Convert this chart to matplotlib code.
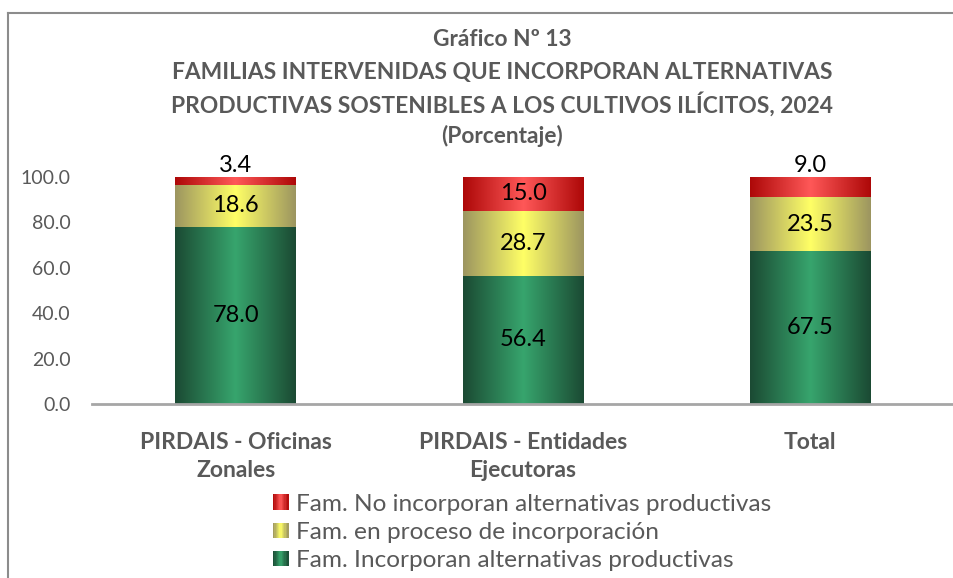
import numpy as np
import matplotlib.pyplot as plt
from matplotlib.colors import LinearSegmentedColormap
from matplotlib.patches import Rectangle
from matplotlib.legend_handler import HandlerBase
from matplotlib.lines import Line2D

plt.rcParams['font.family'] = ['Lato', 'DejaVu Sans']

categories = ['PIRDAIS - Oficinas\nZonales', 'PIRDAIS - Entidades\nEjecutoras', 'Total']
incorporan = [78.0, 56.4, 67.5]
en_proceso = [18.6, 28.7, 23.5]
no_incorporan = [3.4, 15.0, 9.0]
series_names = ['Fam. Incorporan alternativas productivas',
                'Fam. en proceso de incorporación',
                'Fam. No incorporan alternativas productivas']

GREY = '#595959'
# (edge colour, centre colour) for the horizontal gradients
grad = {
    'green': ('#1b4a33', '#37a56d'),
    'yellow': ('#9c9560', '#ffff66'),
    'red': ('#ad0808', '#ff5858'),
}


def cmap_for(key):
    edge, centre = grad[key]
    return LinearSegmentedColormap.from_list(key, [edge, centre, edge])


ramp = np.linspace(0, 1, 256).reshape(1, -1)


def gradient_bar(ax, x, bottom, height, width, key):
    ax.imshow(ramp, cmap=cmap_for(key), aspect='auto', interpolation='bicubic',
              extent=[x - width / 2, x + width / 2, bottom, bottom + height],
              zorder=2)


class GradientHandler(HandlerBase):
    def __init__(self, key):
        super().__init__()
        self.key = key

    def create_artists(self, legend, orig_handle, xdescent, ydescent,
                       width, height, fontsize, trans):
        cm = cmap_for(self.key)
        n = 12
        arts = []
        for i in range(n):
            r = Rectangle((-xdescent + width * i / n, -ydescent), width / n + 0.3,
                          height, facecolor=cm((i + 0.5) / n), edgecolor='none',
                          transform=trans)
            arts.append(r)
        return arts


fig = plt.figure(figsize=(9.54, 5.78), dpi=100)
ax = fig.add_axes([92 / 954, 174 / 578, 862 / 954, 227 / 578])

x = np.arange(len(categories))
w = 0.42
lab_size = 17
for i in x:
    gradient_bar(ax, i, 0, incorporan[i], w, 'green')
    gradient_bar(ax, i, incorporan[i], en_proceso[i], w, 'yellow')
    gradient_bar(ax, i, incorporan[i] + en_proceso[i], no_incorporan[i], w, 'red')

    ax.text(i, incorporan[i] / 2, f'{incorporan[i]:.1f}', ha='center', va='center',
            fontsize=lab_size, color='black', zorder=3)
    ax.text(i, incorporan[i] + en_proceso[i] / 2, f'{en_proceso[i]:.1f}', ha='center',
            va='center', fontsize=lab_size, color='black', zorder=3)
    top = incorporan[i] + en_proceso[i]
    if no_incorporan[i] < 10:
        ax.text(i, top + no_incorporan[i] + 0.3, f'{no_incorporan[i]:.1f}', ha='center',
                va='bottom', fontsize=lab_size, color='black', zorder=3, clip_on=False)
    else:
        ax.text(i, top + no_incorporan[i] / 2, f'{no_incorporan[i]:.1f}', ha='center',
                va='center', fontsize=lab_size, color='black', zorder=3)

ax.set_xlim(-0.5, 2.5)
ax.set_ylim(0, 100)
ax.set_yticks(np.arange(0, 101, 20))
ax.set_yticklabels([f'{v:.1f}' for v in np.arange(0, 101, 20)])
ax.set_xticks(x)
ax.set_xticklabels(categories, fontweight='bold', fontsize=16.5, color=GREY,
                   linespacing=1.45)
ax.tick_params(axis='y', length=0, labelsize=14, labelcolor=GREY, pad=15.5)
ax.tick_params(axis='x', length=0, pad=20)
for s in ['top', 'right', 'left']:
    ax.spines[s].set_visible(False)
ax.spines['bottom'].set_color('#a6a6a6')
ax.spines['bottom'].set_linewidth(2)
ax.set_facecolor('none')

title_lines = ['Gráfico Nº 13',
               'FAMILIAS INTERVENIDAS QUE INCORPORAN ALTERNATIVAS',
               'PRODUCTIVAS SOSTENIBLES A LOS CULTIVOS ILÍCITOS, 2024',
               '(Porcentaje)']
for txt, yp in zip(title_lines, [40, 73, 104, 136]):
    fig.text(502 / 954, 1 - yp / 578, txt, ha='center', va='center',
             fontsize=16.4, fontweight='bold', color=GREY)

# legend (red first, as in the original)
h_red = Rectangle((0, 0), 1, 1)
h_yel = Rectangle((0, 0), 1, 1)
h_grn = Rectangle((0, 0), 1, 1)
leg = fig.legend([h_red, h_yel, h_grn], [series_names[2], series_names[1], series_names[0]],
                 handler_map={h_red: GradientHandler('red'), h_yel: GradientHandler('yellow'),
                              h_grn: GradientHandler('green')},
                 loc='upper left', bbox_to_anchor=(273 / 954, 1 - 494 / 578),
                 frameon=False, fontsize=17.6, handlelength=0.62, handleheight=0.62,
                 handletextpad=0.32, labelspacing=0.29, borderpad=0, borderaxespad=0)
for t in leg.get_texts():
    t.set_color(GREY)

# outer frame (only top and left visible in the crop)
fig.add_artist(Line2D([8 / 954, 1], [1 - 13 / 578, 1 - 13 / 578], color='#8c8c8c',
                      lw=1.5, transform=fig.transFigure))
fig.add_artist(Line2D([8 / 954, 8 / 954], [0, 1 - 13 / 578], color='#8c8c8c',
                      lw=1.5, transform=fig.transFigure))

fig.savefig('out.png', dpi=100)
